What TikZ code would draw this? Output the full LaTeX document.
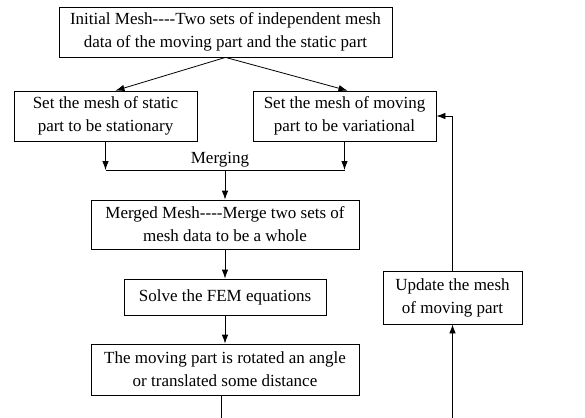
\documentclass[tikz,border=0pt]{standalone}
\usepackage{fontspec}
\setmainfont{Liberation Serif}
\usetikzlibrary{arrows.meta,calc}
% four plain hyphens, kept apart so they are not joined into a dash
\newcommand{\fourdash}{-\kern0pt-\kern0pt-\kern0pt-}
\begin{document}
\begin{tikzpicture}[x=1pt,y=-1pt,
  txt/.style={font=\fontsize{17}{23}\selectfont},
  box/.style={txt, draw, line width=0.8pt, align=center, inner sep=0pt},
  link/.style={line width=0.8pt},
  arrow/.style={link, -{Latex[length=9pt,width=6.5pt]}}]
  \useasboundingbox (0,0) rectangle (585,417);
  % process boxes
  \node[box, minimum width=333pt, minimum height=50pt] (init) at (225.5,32)
    {Initial Mesh\fourdash Two sets of independent mesh\\data of the moving part and the static part};
  \node[box, minimum width=183pt, minimum height=50pt] (static) at (105.5,116)
    {Set the mesh of static\\part to be stationary};
  \node[box, minimum width=183pt, minimum height=50pt] (move) at (344.5,116)
    {Set the mesh of moving\\part to be variational};
  \node[box, minimum width=268pt, minimum height=49pt] (merged) at (225,224.5)
    {Merged Mesh\fourdash Merge two sets of\\mesh data to be a whole};
  \node[box, minimum width=202pt, minimum height=36pt] (solve) at (225,297)
    {Solve the FEM equations};
  \node[box, minimum width=268pt, minimum height=51pt] (rot) at (225,369.5)
    {The moving part is rotated an angle\\or translated some distance};
  \node[box, minimum width=139pt, minimum height=53pt] (update) at (452.5,297.5)
    {Update the mesh\\of moving part};
  % split into the two meshes
  \draw[arrow] (init.south) -- ([xshift=10pt]static.north);
  \draw[arrow] (init.south) -- ([xshift=3pt]move.north);
  % merging junction
  \coordinate (mL) at (105.5,170);
  \coordinate (mR) at (344.5,170);
  \coordinate (mC) at (225,170);
  \draw[arrow] (static.south) -- (mL);
  \draw[arrow] (move.south) -- (mR);
  \draw[link] (mL) -- (mR);
  \node[txt] (mlabel) at (220,160) {Merging};
  \draw[arrow] (mC) -- (merged.north);
  \draw[arrow] (merged.south) -- (solve.north);
  \draw[arrow] (solve.south) -- (rot.north);
  % feedback loop running off the lower edge
  \coordinate (b1) at (221,420);
  \coordinate (b2) at (452.5,420);
  \coordinate (corner) at (452.5,116);
  \draw[link] ([xshift=-4pt]rot.south) -- (b1);
  \draw[arrow] (b2) -- (update.south);
  \draw[link] (update.north) -- (corner);
  \draw[arrow] (corner) -- (move.east);
\end{tikzpicture}
\end{document}
